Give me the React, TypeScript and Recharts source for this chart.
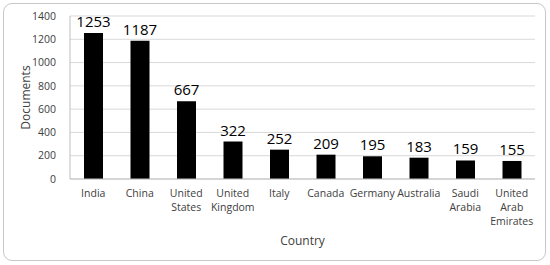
import React from "react";
import { BarChart, Bar, XAxis, YAxis, CartesianGrid, LabelList, Label } from "recharts";

const countries = ["India", "China", "United States", "United Kingdom", "Italy", "Canada", "Germany", "Australia", "Saudi Arabia", "United Arab Emirates"];
const documents = [1253, 1187, 667, 322, 252, 209, 195, 183, 159, 155];
const yTicks = [0, 200, 400, 600, 800, 1000, 1200, 1400];

const data = countries.map((c, i) => ({ country: c, documents: documents[i] }));

const FONT = "'Open Sans', 'Noto Sans', sans-serif";

const CountryTick = (props: any) => {
  const { x, y, payload } = props;
  const words = String(payload.value).split(" ");
  return (
    <text x={x} y={y} textAnchor="middle" fill="#404040" fontSize={10.5} fontFamily={FONT}>
      {words.map((w: string, i: number) => (
        <tspan key={i} x={x} dy={i === 0 ? 10 : 14}>{w}</tspan>
      ))}
    </text>
  );
};

export default function App() {
  return (
    <div style={{ position: "absolute", left: 0, top: 0, width: 550, height: 265, background: "#fff" }}>
      <div style={{ position: "absolute", left: 3, top: 3, width: 541, height: 256, border: "1px solid #c8c8c8", borderRadius: 9 }} />
      <BarChart
        width={550}
        height={265}
        data={data}
        margin={{ top: 16, right: 15, bottom: 0, left: 0 }}
        barSize={19}
        style={{ position: "absolute", left: 0, top: 0 }}
      >
        <CartesianGrid vertical={false} stroke="#d9d9d9" />
        <XAxis
          dataKey="country"
          interval={0}
          tick={<CountryTick />}
          tickLine={false}
          axisLine={{ stroke: "#bfbfbf" }}
          height={86}
        >
          <Label value="Country" position="insideBottom" offset={20} fill="#404040" fontSize={12} fontFamily={FONT} />
        </XAxis>
        <YAxis
          domain={[0, 1400]}
          ticks={yTicks}
          interval={0}
          width={70}
          tickLine={false}
          axisLine={{ stroke: "#bfbfbf" }}
          tick={{ fill: "#404040", fontSize: 10.5, fontFamily: FONT }}
          tickMargin={8}
        >
          <Label value="Documents" angle={-90} position="insideLeft" offset={26} style={{ textAnchor: "middle" }} fill="#404040" fontSize={12} fontFamily={FONT} />
        </YAxis>
        <Bar dataKey="documents" fill="#000000" isAnimationActive={false}>
          <LabelList dataKey="documents" position="top" offset={6} fill="#000" fontSize={15} fontFamily={FONT} />
        </Bar>
      </BarChart>
    </div>
  );
}
